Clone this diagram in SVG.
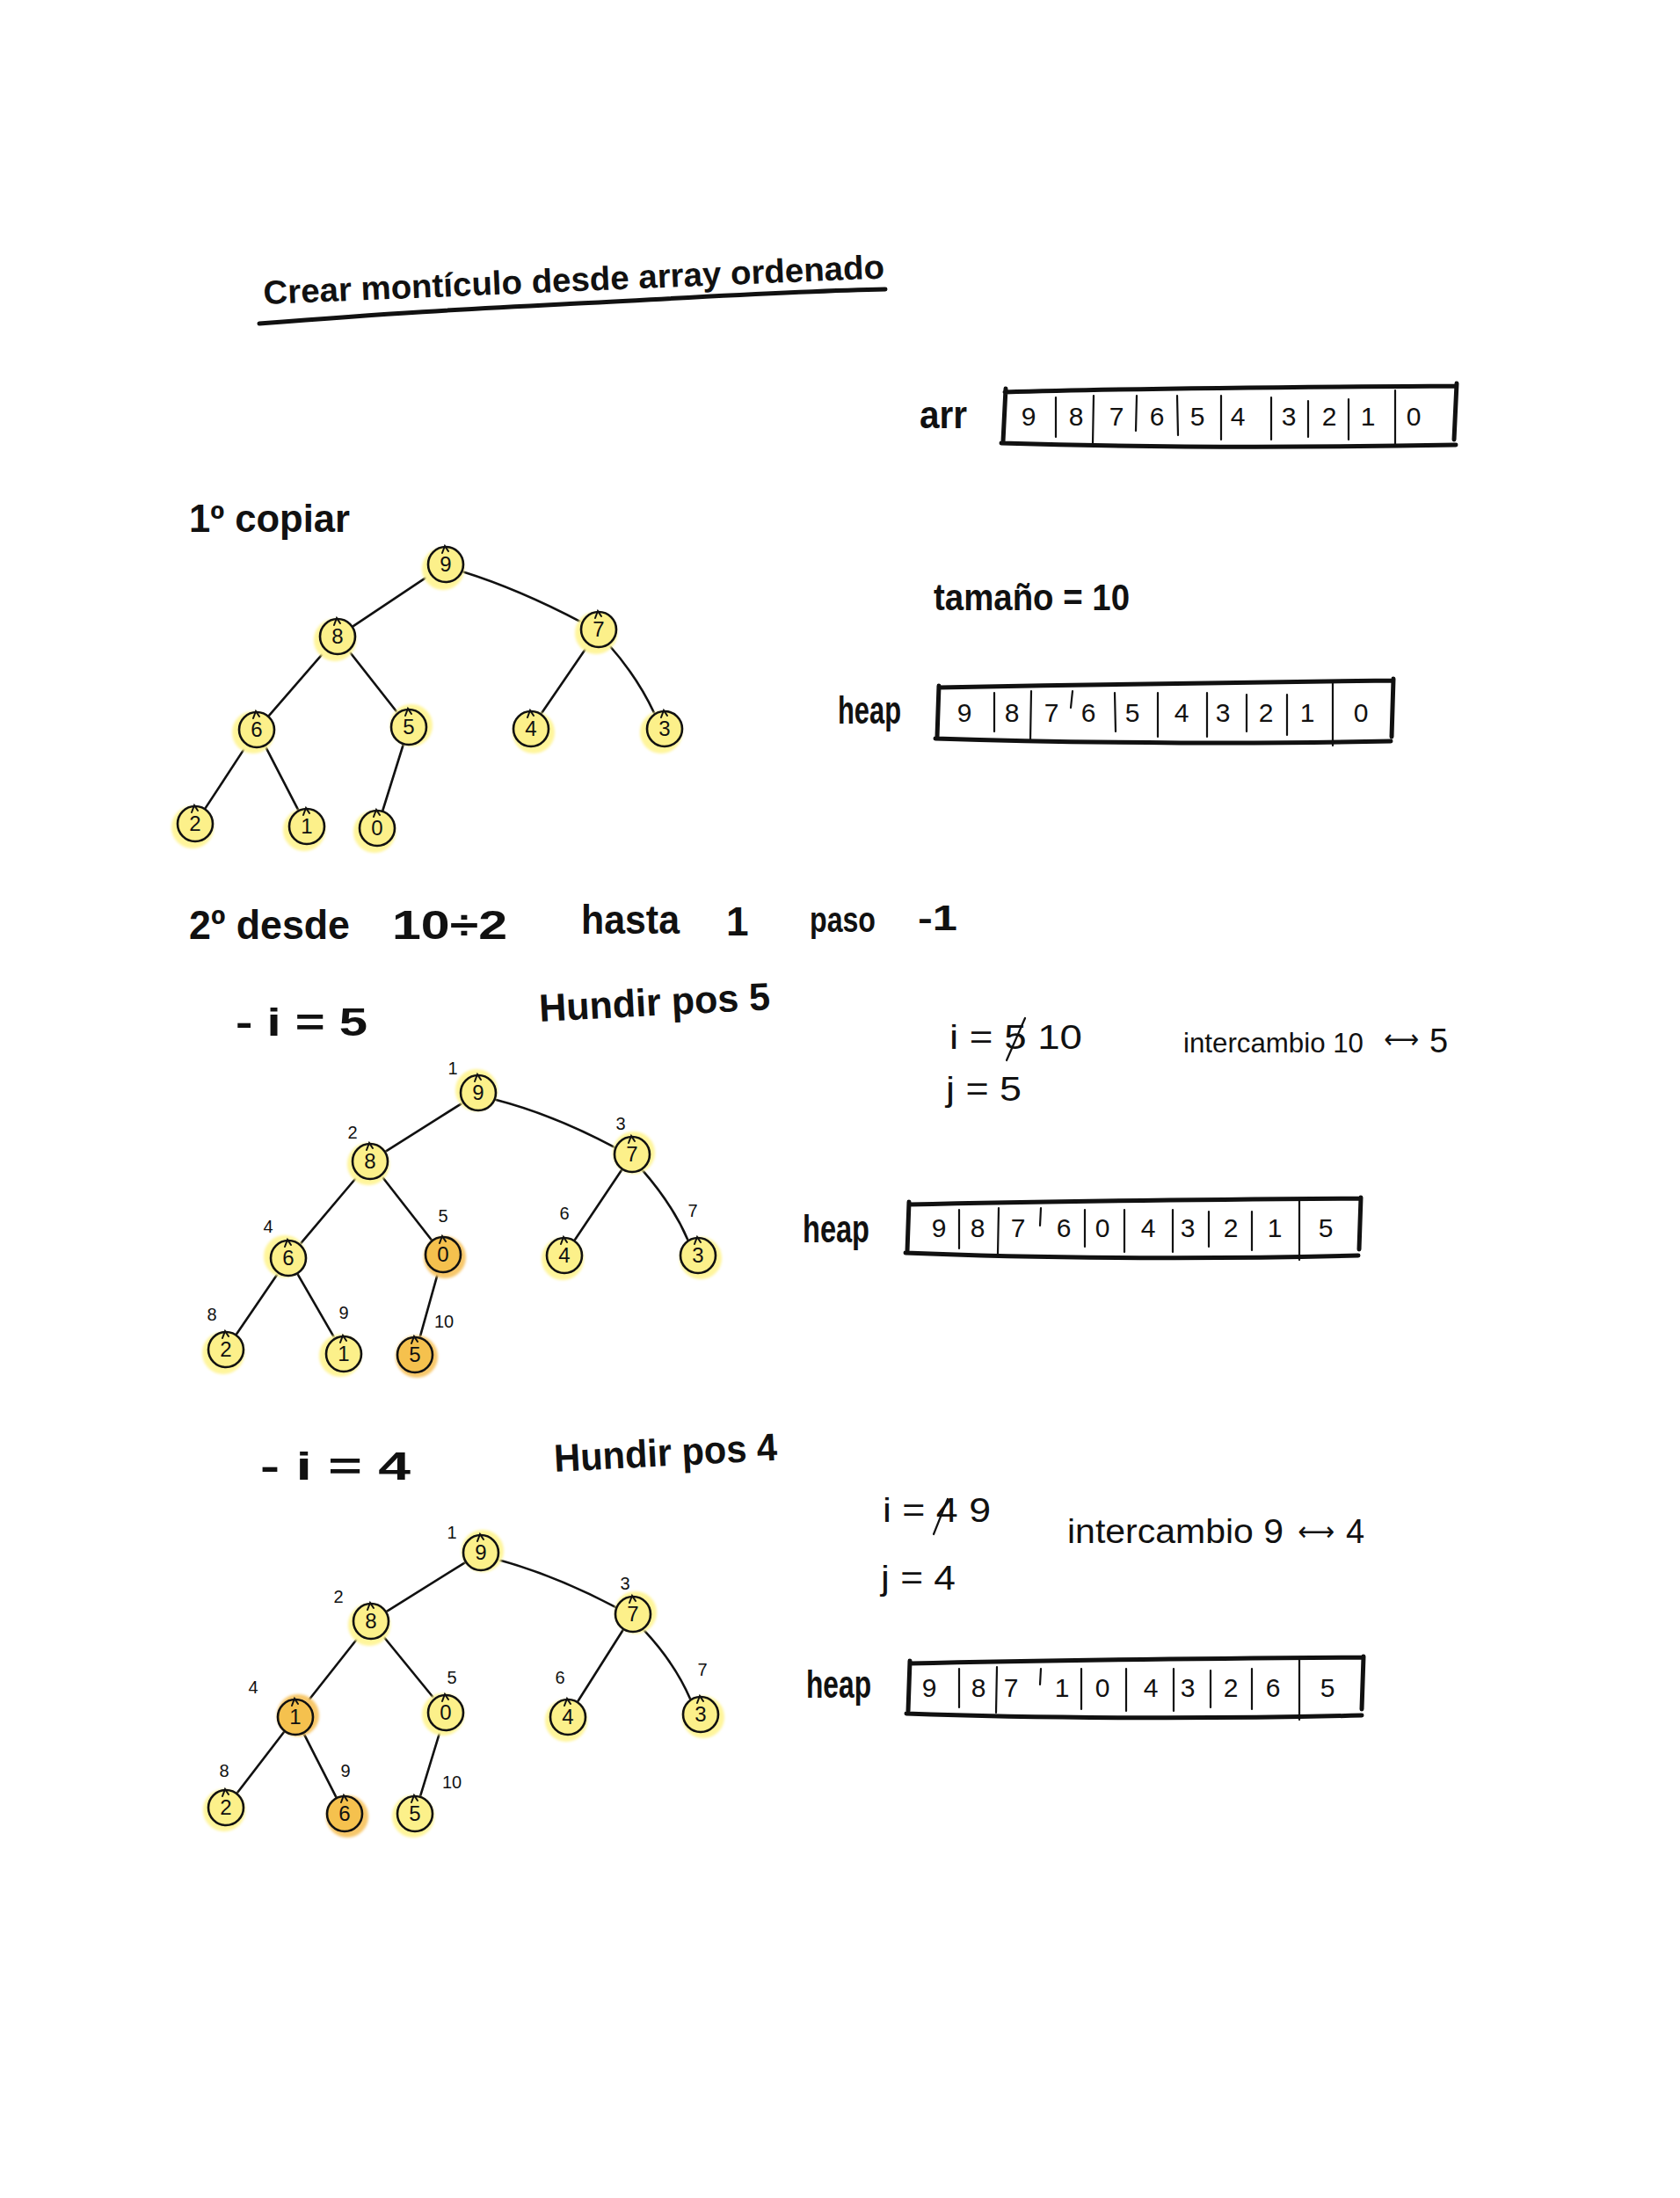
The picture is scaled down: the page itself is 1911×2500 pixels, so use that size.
<svg xmlns="http://www.w3.org/2000/svg" width="1911" height="2500" viewBox="0 0 1911 2500">
<defs>
<filter id="soft" x="-30%" y="-30%" width="160%" height="160%"><feGaussianBlur stdDeviation="1.6"/></filter>
<style>
text{font-family:"Liberation Sans","DejaVu Sans",sans-serif;fill:#111}
.h{font-weight:bold;font-size:44px}
.t{font-size:38px}
.ar{font-family:"DejaVu Sans",sans-serif;font-size:30px}
.cell{font-size:30px;text-anchor:middle}
.idx{font-size:20px;text-anchor:middle}
.nv{font-size:24px;text-anchor:middle}
.nd{fill:#FCF08A;stroke:#111;stroke-width:2.6}
.nd.or{fill:#F5C14E}
.halo{fill:#FFF59B;filter:url(#soft)}
.halo.or{fill:#F7C76A}
.hook{fill:none;stroke:#111;stroke-width:2;stroke-linecap:round}
.edge{fill:none;stroke:#111;stroke-width:2.6;stroke-linecap:round}
.bx{fill:none;stroke:#111;stroke-width:5;stroke-linecap:round}
.dv{fill:none;stroke:#111;stroke-width:2.2;stroke-linecap:round}
.ul{fill:none;stroke:#111;stroke-width:5;stroke-linecap:round}
.st{fill:none;stroke:#111;stroke-width:2.2;stroke-linecap:round}
</style>
</defs>
<rect width="1911" height="2500" fill="#fff"/>

<g id="title">
<text class="h" x="300" y="346" textLength="707" lengthAdjust="spacingAndGlyphs" style="font-size:38px" transform="rotate(-2.4 300 346)">Crear montículo desde array ordenado</text>
<path class="ul" d="M295,368 C450,356 520,352 640,346 S900,331 1007,329"/>
</g>

<g id="arr-array">
<text class="h" x="1046" y="487" textLength="54" lengthAdjust="spacingAndGlyphs">arr</text>
<path class="bx" d="M1143,446 C1300,441 1500,440 1656,439 M1144,442 L1141,502 M1139,504 C1300,509 1500,509 1656,506 M1657,436 L1654,500"/>
<path class="dv" d="M1201,452 L1201,497 M1244,450 L1243,505 M1293,450 L1292,490 M1339,450 L1340,495 M1389,450 L1389,500 M1446,452 L1446,500 M1488,456 L1488,497 M1534,454 L1534,500 M1587,444 L1587,508"/>
<g class="cellv">
<text class="cell" x="1170" y="484">9</text><text class="cell" x="1224" y="484">8</text><text class="cell" x="1270" y="484">7</text><text class="cell" x="1316" y="484">6</text><text class="cell" x="1362" y="484">5</text><text class="cell" x="1408" y="484">4</text><text class="cell" x="1466" y="484">3</text><text class="cell" x="1512" y="484">2</text><text class="cell" x="1556" y="484">1</text><text class="cell" x="1608" y="484">0</text>
</g>
</g>

<text class="h" x="215" y="605" textLength="183" lengthAdjust="spacingAndGlyphs">1º copiar</text>
<text class="h" x="1062" y="694" textLength="223" lengthAdjust="spacingAndGlyphs" style="font-size:42px">tamaño = 10</text>

<g id="heap-1">
<text class="h" x="953" y="823" textLength="72" lengthAdjust="spacingAndGlyphs">heap</text>
<path class="bx" d="M1068,782 C1250,778 1450,776 1584,774 M1068,780 L1066,838 M1064,840 C1250,846 1450,846 1582,843 M1585,772 L1583,838"/>
<path class="dv" d="M1131,788 L1131,832 M1173,786 L1172,842 M1220,786 L1218,805 M1268,788 L1269,832 M1317,788 L1317,838 M1373,788 L1373,838 M1418,790 L1418,832 M1464,790 L1464,836 M1516,776 L1516,848"/>
<text class="cell" x="1097" y="821">9</text><text class="cell" x="1151" y="821">8</text><text class="cell" x="1196" y="821">7</text><text class="cell" x="1238" y="821">6</text><text class="cell" x="1288" y="821">5</text><text class="cell" x="1344" y="821">4</text><text class="cell" x="1391" y="821">3</text><text class="cell" x="1440" y="821">2</text><text class="cell" x="1487" y="821">1</text><text class="cell" x="1548" y="821">0</text>
</g>

<g id="tree1-edges" class="connectors">
<path class="edge" d="M489.5,653.7 L401.5,712.3"/>
<path class="edge" d="M526.3,650.2 Q590,670 661.7,707.8"/>
<path class="edge" d="M370.2,739.9 L305.8,814.1"/>
<path class="edge" d="M397,740.5 L452,810.5"/>
<path class="edge" d="M669.2,733.4 L615.8,811.6"/>
<path class="edge" d="M692.6,733.5 Q725,770 744.4,811.5"/>
<path class="edge" d="M280.5,847.6 L233.5,919.4"/>
<path class="edge" d="M301.7,848.6 L339.3,921.4"/>
<path class="edge" d="M458.7,847 L435.3,922"/>
</g>
<g id="tree1-nodes">
<g id="t1-9" transform="translate(507,642)"><circle class="halo" cx="-3" cy="5" r="24"/><circle class="nd" r="20"/><path class="hook" d="M-4,-13 l3,-8 l4,6"/><text class="nv" y="8">9</text></g>
<g id="t1-8" transform="translate(384,724)"><circle class="halo" cx="-3" cy="4" r="24"/><circle class="nd" r="20"/><path class="hook" d="M-4,-13 l3,-8 l4,6"/><text class="nv" y="8">8</text></g>
<g id="t1-7" transform="translate(681,716)"><circle class="halo" cx="-3" cy="4" r="24"/><circle class="nd" r="20"/><path class="hook" d="M-4,-13 l3,-8 l4,6"/><text class="nv" y="8">7</text></g>
<g id="t1-6" transform="translate(292,830)"><circle class="halo" cx="-4" cy="3" r="24"/><circle class="nd" r="20"/><path class="hook" d="M-4,-13 l3,-8 l4,6"/><text class="nv" y="8">6</text></g>
<g id="t1-5" transform="translate(465,827)"><circle class="halo" cx="3" cy="-2" r="24"/><circle class="nd" r="20"/><path class="hook" d="M-4,-13 l3,-8 l4,6"/><text class="nv" y="8">5</text></g>
<g id="t1-4" transform="translate(604,829)"><circle class="halo" cx="3" cy="4" r="24"/><circle class="nd" r="20"/><path class="hook" d="M-4,-13 l3,-8 l4,6"/><text class="nv" y="8">4</text></g>
<g id="t1-3" transform="translate(756,829)"><circle class="halo" cx="-4" cy="4" r="24"/><circle class="nd" r="20"/><path class="hook" d="M-4,-13 l3,-8 l4,6"/><text class="nv" y="8">3</text></g>
<g id="t1-2" transform="translate(222,937)"><circle class="halo" cx="-3" cy="4" r="24"/><circle class="nd" r="20"/><path class="hook" d="M-4,-13 l3,-8 l4,6"/><text class="nv" y="8">2</text></g>
<g id="t1-1" transform="translate(349,940)"><circle class="halo" cx="-3" cy="4" r="24"/><circle class="nd" r="20"/><path class="hook" d="M-4,-13 l3,-8 l4,6"/><text class="nv" y="8">1</text></g>
<g id="t1-0" transform="translate(429,942)"><circle class="halo" cx="-3" cy="4" r="24"/><circle class="nd" r="20"/><path class="hook" d="M-4,-13 l3,-8 l4,6"/><text class="nv" y="8">0</text></g>
</g>

<g id="step2-text">
<text class="h" x="215" y="1068" textLength="183" lengthAdjust="spacingAndGlyphs" style="font-size:46px">2º desde</text>
<text class="h" x="446" y="1068" textLength="131" lengthAdjust="spacingAndGlyphs" style="font-size:46px">10÷2</text>
<text class="h" x="661" y="1062" textLength="112" lengthAdjust="spacingAndGlyphs" style="font-size:46px">hasta</text>
<text class="h" x="826" y="1064" style="font-size:46px">1</text>
<text class="h" x="921" y="1060" textLength="75" lengthAdjust="spacingAndGlyphs" style="font-size:40px">paso</text>
<text class="h" x="1044" y="1058" textLength="45" lengthAdjust="spacingAndGlyphs" style="font-size:40px">-1</text>
<text class="h" x="268" y="1178" textLength="150" lengthAdjust="spacingAndGlyphs">- i = 5</text>
<text class="h" x="614" y="1162" textLength="263" lengthAdjust="spacingAndGlyphs" transform="rotate(-3 614 1162)">Hundir pos 5</text>
<text class="t" x="1080" y="1193" textLength="151" lengthAdjust="spacingAndGlyphs">i = 5 10</text>
<path class="st" d="M1145,1206 L1166,1158"/>
<text class="t" x="1346" y="1197" textLength="205" lengthAdjust="spacingAndGlyphs" style="font-size:32px">intercambio 10</text>
<text class="ar" x="1574" y="1192" textLength="40" lengthAdjust="spacingAndGlyphs">⟷</text>
<text class="t" x="1626" y="1197">5</text>
<text class="t" x="1076" y="1252" textLength="86" lengthAdjust="spacingAndGlyphs">j = 5</text>
</g>

<g id="tree2-edges" class="connectors">
<path class="edge" d="M526.3,1254.3 L438.7,1309.7"/>
<path class="edge" d="M563.5,1250.8 Q630,1268 699.5,1305.2"/>
<path class="edge" d="M407.4,1337 L341.6,1414.9"/>
<path class="edge" d="M434,1337.5 L491,1410.5"/>
<path class="edge" d="M707.3,1330.5 L653.7,1410.5"/>
<path class="edge" d="M730.5,1330.6 Q765,1370 782.5,1410.4"/>
<path class="edge" d="M316.2,1448.3 L268.8,1517.7"/>
<path class="edge" d="M338.5,1449.2 L380.5,1521.8"/>
<path class="edge" d="M498.3,1447.2 L477.7,1520.8"/>
</g>
<g id="tree2-nodes">
<g id="t2-9" transform="translate(544,1243)"><circle class="halo" cx="-2" cy="-3" r="24"/><circle class="nd" r="20"/><path class="hook" d="M-4,-13 l3,-8 l4,6"/><text class="nv" y="8">9</text></g>
<g id="t2-8" transform="translate(421,1321)"><circle class="halo" cx="-2" cy="3" r="24"/><circle class="nd" r="20"/><path class="hook" d="M-4,-13 l3,-8 l4,6"/><text class="nv" y="8">8</text></g>
<g id="t2-7" transform="translate(719,1313)"><circle class="halo" cx="2" cy="-2" r="24"/><circle class="nd" r="20"/><path class="hook" d="M-4,-13 l3,-8 l4,6"/><text class="nv" y="8">7</text></g>
<g id="t2-6" transform="translate(328,1431)"><circle class="halo" cx="-4" cy="-2" r="24"/><circle class="nd" r="20"/><path class="hook" d="M-4,-13 l3,-8 l4,6"/><text class="nv" y="8">6</text></g>
<g id="t2-0" transform="translate(504,1427)"><circle class="halo or" cx="2" cy="3" r="24"/><circle class="nd or" r="20"/><path class="hook" d="M-4,-13 l3,-8 l4,6"/><text class="nv" y="8">0</text></g>
<g id="t2-4" transform="translate(642,1428)"><circle class="halo" cx="-2" cy="4" r="24"/><circle class="nd" r="20"/><path class="hook" d="M-4,-13 l3,-8 l4,6"/><text class="nv" y="8">4</text></g>
<g id="t2-3" transform="translate(794,1428)"><circle class="halo" cx="3" cy="3" r="24"/><circle class="nd" r="20"/><path class="hook" d="M-4,-13 l3,-8 l4,6"/><text class="nv" y="8">3</text></g>
<g id="t2-2" transform="translate(257,1535)"><circle class="halo" cx="-3" cy="4" r="24"/><circle class="nd" r="20"/><path class="hook" d="M-4,-13 l3,-8 l4,6"/><text class="nv" y="8">2</text></g>
<g id="t2-1" transform="translate(391,1540)"><circle class="halo" cx="-4" cy="2" r="24"/><circle class="nd" r="20"/><path class="hook" d="M-4,-13 l3,-8 l4,6"/><text class="nv" y="8">1</text></g>
<g id="t2-5" transform="translate(472,1541)"><circle class="halo or" cx="2" cy="2" r="24"/><circle class="nd or" r="20"/><path class="hook" d="M-4,-13 l3,-8 l4,6"/><text class="nv" y="8">5</text></g>
</g>
<g id="tree2-index">
<text class="idx" x="515" y="1222">1</text><text class="idx" x="401" y="1295">2</text><text class="idx" x="706" y="1285">3</text><text class="idx" x="305" y="1402">4</text><text class="idx" x="504" y="1390">5</text><text class="idx" x="642" y="1387">6</text><text class="idx" x="788" y="1384">7</text><text class="idx" x="241" y="1502">8</text><text class="idx" x="391" y="1500">9</text><text class="idx" x="505" y="1510">10</text>
</g>

<g id="heap-2">
<text class="h" x="913" y="1413" textLength="76" lengthAdjust="spacingAndGlyphs">heap</text>
<path class="bx" d="M1034,1370 C1200,1366 1400,1364 1547,1363 M1034,1367 L1032,1423 M1030,1425 C1200,1432 1400,1432 1545,1428 M1548,1362 L1546,1421"/>
<path class="dv" d="M1091,1376 L1091,1420 M1136,1374 L1135,1426 M1184,1374 L1183,1394 M1234,1376 L1234,1418 M1279,1376 L1279,1424 M1334,1376 L1334,1424 M1375,1378 L1375,1418 M1424,1378 L1424,1422 M1478,1366 L1478,1433"/>
<text class="cell" x="1068" y="1407">9</text><text class="cell" x="1112" y="1407">8</text><text class="cell" x="1158" y="1407">7</text><text class="cell" x="1210" y="1407">6</text><text class="cell" x="1254" y="1407">0</text><text class="cell" x="1306" y="1407">4</text><text class="cell" x="1351" y="1407">3</text><text class="cell" x="1400" y="1407">2</text><text class="cell" x="1450" y="1407">1</text><text class="cell" x="1508" y="1407">5</text>
</g>

<g id="step3-text">
<text class="h" x="296" y="1683" textLength="171" lengthAdjust="spacingAndGlyphs">- i = 4</text>
<text class="h" x="631" y="1674" textLength="254" lengthAdjust="spacingAndGlyphs" transform="rotate(-3 631 1674)">Hundir pos 4</text>
<text class="t" x="1004" y="1731" textLength="123" lengthAdjust="spacingAndGlyphs">i = 4 9</text>
<path class="st" d="M1062,1745 L1078,1705"/>
<text class="t" x="1214" y="1755" textLength="246" lengthAdjust="spacingAndGlyphs">intercambio 9</text>
<text class="ar" x="1476" y="1752" textLength="42" lengthAdjust="spacingAndGlyphs">⟷</text>
<text class="t" x="1531" y="1755">4</text>
<text class="t" x="1002" y="1808" textLength="85" lengthAdjust="spacingAndGlyphs">j = 4</text>
</g>

<g id="tree3-edges" class="connectors">
<path class="edge" d="M529.2,1777.1 L439.8,1832.9"/>
<path class="edge" d="M566.5,1773.9 Q632,1792 700.5,1828.1"/>
<path class="edge" d="M409,1860.5 L349,1936.5"/>
<path class="edge" d="M435.3,1860.3 L493.7,1931.7"/>
<path class="edge" d="M708.8,1853.7 L657.2,1935.3"/>
<path class="edge" d="M731.8,1853.4 Q768,1892 785.2,1932.6"/>
<path class="edge" d="M323.2,1969.7 L269.8,2039.3"/>
<path class="edge" d="M345.5,1971.7 L382.5,2044.3"/>
<path class="edge" d="M500.9,1968.1 L478.1,2042.9"/>
</g>
<g id="tree3-nodes">
<g id="t3-9" transform="translate(547,1766)"><circle class="halo" cx="2" cy="-2" r="24"/><circle class="nd" r="20"/><path class="hook" d="M-4,-13 l3,-8 l4,6"/><text class="nv" y="8">9</text></g>
<g id="t3-8" transform="translate(422,1844)"><circle class="halo" cx="-2" cy="4" r="24"/><circle class="nd" r="20"/><path class="hook" d="M-4,-13 l3,-8 l4,6"/><text class="nv" y="8">8</text></g>
<g id="t3-7" transform="translate(720,1836)"><circle class="halo" cx="3" cy="-2" r="24"/><circle class="nd" r="20"/><path class="hook" d="M-4,-13 l3,-8 l4,6"/><text class="nv" y="8">7</text></g>
<g id="t3-1" transform="translate(336,1953)"><circle class="halo or" cx="3" cy="-2" r="24"/><circle class="nd or" r="20"/><path class="hook" d="M-4,-13 l3,-8 l4,6"/><text class="nv" y="8">1</text></g>
<g id="t3-0" transform="translate(507,1948)"><circle class="halo" cx="-3" cy="2" r="24"/><circle class="nd" r="20"/><path class="hook" d="M-4,-13 l3,-8 l4,6"/><text class="nv" y="8">0</text></g>
<g id="t3-4" transform="translate(646,1953)"><circle class="halo" cx="-2" cy="4" r="24"/><circle class="nd" r="20"/><path class="hook" d="M-4,-13 l3,-8 l4,6"/><text class="nv" y="8">4</text></g>
<g id="t3-3" transform="translate(797,1950)"><circle class="halo" cx="3" cy="3" r="24"/><circle class="nd" r="20"/><path class="hook" d="M-4,-13 l3,-8 l4,6"/><text class="nv" y="8">3</text></g>
<g id="t3-2" transform="translate(257,2056)"><circle class="halo" cx="-2" cy="3" r="24"/><circle class="nd" r="20"/><path class="hook" d="M-4,-13 l3,-8 l4,6"/><text class="nv" y="8">2</text></g>
<g id="t3-6" transform="translate(392,2063)"><circle class="halo or" cx="3" cy="3" r="24"/><circle class="nd or" r="20"/><path class="hook" d="M-4,-13 l3,-8 l4,6"/><text class="nv" y="8">6</text></g>
<g id="t3-5" transform="translate(472,2063)"><circle class="halo" cx="-2" cy="3" r="24"/><circle class="nd" r="20"/><path class="hook" d="M-4,-13 l3,-8 l4,6"/><text class="nv" y="8">5</text></g>
</g>
<g id="tree3-index">
<text class="idx" x="514" y="1750">1</text><text class="idx" x="385" y="1823">2</text><text class="idx" x="711" y="1808">3</text><text class="idx" x="288" y="1926">4</text><text class="idx" x="514" y="1915">5</text><text class="idx" x="637" y="1915">6</text><text class="idx" x="799" y="1906">7</text><text class="idx" x="255" y="2021">8</text><text class="idx" x="393" y="2021">9</text><text class="idx" x="514" y="2034">10</text>
</g>

<g id="heap-3">
<text class="h" x="917" y="1931" textLength="74" lengthAdjust="spacingAndGlyphs">heap</text>
<path class="bx" d="M1035,1892 C1200,1888 1400,1886 1550,1885 M1035,1889 L1033,1946 M1031,1949 C1200,1955 1400,1955 1549,1951 M1551,1884 L1549,1944"/>
<path class="dv" d="M1091,1898 L1091,1942 M1134,1896 L1133,1948 M1184,1898 L1183,1916 M1230,1898 L1230,1944 M1281,1898 L1281,1946 M1335,1898 L1335,1946 M1377,1900 L1377,1942 M1424,1898 L1424,1944 M1478,1888 L1478,1956"/>
<text class="cell" x="1057" y="1930">9</text><text class="cell" x="1113" y="1930">8</text><text class="cell" x="1150" y="1930">7</text><text class="cell" x="1208" y="1930">1</text><text class="cell" x="1254" y="1930">0</text><text class="cell" x="1309" y="1930">4</text><text class="cell" x="1351" y="1930">3</text><text class="cell" x="1400" y="1930">2</text><text class="cell" x="1448" y="1930">6</text><text class="cell" x="1510" y="1930">5</text>
</g>
</svg>
